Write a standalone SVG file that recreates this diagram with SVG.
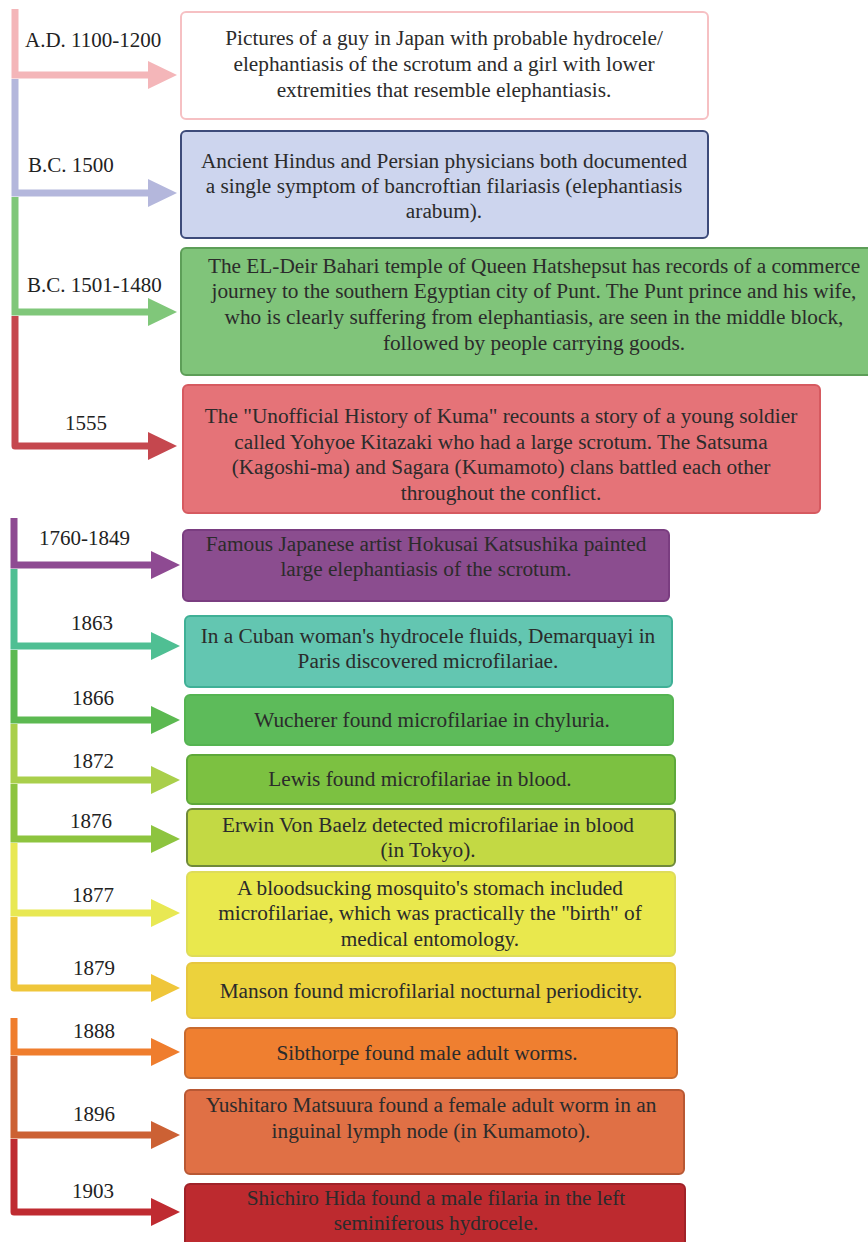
<svg xmlns="http://www.w3.org/2000/svg" width="868" height="1242" viewBox="0 0 868 1242" font-family="'Liberation Serif', 'Times New Roman', serif">
<style>
text{font-family:"Liberation Serif","Times New Roman",serif;font-size:21.3px;fill:#2b2b2b}
.lbl{font-size:21px;fill:#222}
.box text{text-anchor:middle;font-family:"Liberation Serif","Times New Roman",serif}
.c path{fill:none;stroke-width:7;stroke-linejoin:miter}
.c path.r{stroke-linejoin:round}
</style>
<rect width="868" height="1242" fill="#ffffff"/>
<g id="connectors" class="c">
  <path d="M15,9 V75 H150" stroke="#f4b6b9"/><polygon points="148,61 177,75 148,89" fill="#f4b6b9"/>
  <path d="M15,79 V193 H150" stroke="#b4b7dc"/><polygon points="148,179 177,193 148,207" fill="#b4b7dc"/>
  <path d="M15,197 V312 H150" stroke="#80c77a"/><polygon points="148,298 177,312 148,326" fill="#80c77a"/>
  <path class="r" d="M15,316 V446 H150" stroke="#c5474e"/><polygon points="148,432 177,446 148,460" fill="#c5474e"/>
  <path d="M14,518 V565 H152" stroke="#8e4a92"/><polygon points="151,551 180,565 151,579" fill="#8e4a92"/>
  <path d="M14,569 V646 H152" stroke="#4fbf93"/><polygon points="151,632 180,646 151,660" fill="#4fbf93"/>
  <path d="M14,650 V720 H152" stroke="#5cb951"/><polygon points="151,706 180,720 151,734" fill="#5cb951"/>
  <path d="M14,724 V780 H152" stroke="#a9cf4b"/><polygon points="151,766 180,780 151,794" fill="#a9cf4b"/>
  <path d="M14,784 V839 H152" stroke="#8dc43f"/><polygon points="151,825 180,839 151,853" fill="#8dc43f"/>
  <path d="M14,843 V913 H152" stroke="#e8e853"/><polygon points="151,899 180,913 151,927" fill="#e8e853"/>
  <path class="r" d="M14,917 V988 H152" stroke="#efc63a"/><polygon points="151,974 180,988 151,1002" fill="#efc63a"/>
  <path d="M14,1018 V1052 H152" stroke="#ef7d2d"/><polygon points="151,1038 180,1052 151,1066" fill="#ef7d2d"/>
  <path d="M14,1056 V1135 H152" stroke="#cc6134"/><polygon points="151,1121 180,1135 151,1149" fill="#cc6134"/>
  <path class="r" d="M14,1139 V1212 H152" stroke="#bf2b31"/><polygon points="151,1198 180,1212 151,1226" fill="#bf2b31"/>
</g>
<g id="labels">
  <text class="lbl" x="25" y="47">A.D. 1100-1200</text>
  <text class="lbl" x="28" y="172">B.C. 1500</text>
  <text class="lbl" x="27" y="292">B.C. 1501-1480</text>
  <text class="lbl" x="65" y="430">1555</text>
  <text class="lbl" x="39" y="545">1760-1849</text>
  <text class="lbl" x="71" y="630">1863</text>
  <text class="lbl" x="72" y="705">1866</text>
  <text class="lbl" x="72" y="768">1872</text>
  <text class="lbl" x="70" y="828">1876</text>
  <text class="lbl" x="72" y="902">1877</text>
  <text class="lbl" x="73" y="975">1879</text>
  <text class="lbl" x="73" y="1038">1888</text>
  <text class="lbl" x="73" y="1121">1896</text>
  <text class="lbl" x="72" y="1198">1903</text>
</g>
<g id="n1" class="box">
  <rect x="181" y="12" width="527" height="107" rx="5" fill="#ffffff" stroke="#f6c0c3" stroke-width="2"/>
  <text x="444" y="45">Pictures of a guy in Japan with probable hydrocele/</text>
  <text x="444" y="71">elephantiasis of the scrotum and a girl with lower</text>
  <text x="444" y="97">extremities that resemble elephantiasis.</text>
</g>
<g id="n2" class="box">
  <rect x="181" y="131" width="527" height="107" rx="5" fill="#cdd5ee" stroke="#3d4b7a" stroke-width="2"/>
  <text x="444" y="168">Ancient Hindus and Persian physicians both documented</text>
  <text x="444" y="193">a single symptom of bancroftian filariasis (elephantiasis</text>
  <text x="444" y="218">arabum).</text>
</g>
<g id="n3" class="box">
  <rect x="181" y="248" width="700" height="127" rx="5" fill="#80c47a" stroke="#5d9e58" stroke-width="2"/>
  <text x="534" y="273">The EL-Deir Bahari temple of Queen Hatshepsut has records of a commerce</text>
  <text x="534" y="298">journey to the southern Egyptian city of Punt. The Punt prince and his wife,</text>
  <text x="534" y="324">who is clearly suffering from elephantiasis, are seen in the middle block,</text>
  <text x="534" y="350">followed by people carrying goods.</text>
</g>
<g id="n4" class="box">
  <rect x="183" y="385" width="637" height="128" rx="5" fill="#e57378" stroke="#d65a60" stroke-width="2"/>
  <text x="501" y="423">The "Unofficial History of Kuma" recounts a story of a young soldier</text>
  <text x="501" y="449">called Yohyoe Kitazaki who had a large scrotum. The Satsuma</text>
  <text x="501" y="474">(Kagoshi-ma) and Sagara (Kumamoto) clans battled each other</text>
  <text x="501" y="500">throughout the conflict.</text>
</g>
<g id="n5" class="box">
  <rect x="183" y="530" width="486" height="71" rx="5" fill="#8b4d8f" stroke="#7a3d80" stroke-width="2"/>
  <text x="426" y="551">Famous Japanese artist Hokusai Katsushika painted</text>
  <text x="426" y="576">large elephantiasis of the scrotum.</text>
</g>
<g id="n6" class="box">
  <rect x="185" y="616" width="487" height="71" rx="5" fill="#63c6b1" stroke="#3fb096" stroke-width="2"/>
  <text x="428" y="643">In a Cuban woman's hydrocele fluids, Demarquayi in</text>
  <text x="428" y="668">Paris discovered microfilariae.</text>
</g>
<g id="n7" class="box">
  <rect x="185" y="695" width="488" height="50" rx="5" fill="#5dbb5a" stroke="#55b452" stroke-width="2"/>
  <text x="432" y="727">Wucherer found microfilariae in chyluria.</text>
</g>
<g id="n8" class="box">
  <rect x="187" y="755" width="488" height="49" rx="5" fill="#7cc141" stroke="#5ea83a" stroke-width="2"/>
  <text x="420" y="786">Lewis found microfilariae in blood.</text>
</g>
<g id="n9" class="box">
  <rect x="187" y="809" width="488" height="57" rx="5" fill="#c3d944" stroke="#6f8a3a" stroke-width="2"/>
  <text x="428" y="832">Erwin Von Baelz detected microfilariae in blood</text>
  <text x="428" y="857">(in Tokyo).</text>
</g>
<g id="n10" class="box">
  <rect x="187" y="872" width="488" height="84" rx="5" fill="#e9e84d" stroke="#dedc5a" stroke-width="2"/>
  <text x="430" y="895">A bloodsucking mosquito's stomach included</text>
  <text x="430" y="920">microfilariae, which was practically the "birth" of</text>
  <text x="430" y="946">medical entomology.</text>
</g>
<g id="n11" class="box">
  <rect x="187" y="963" width="488" height="55" rx="5" fill="#ecd23c" stroke="#e6c640" stroke-width="2"/>
  <text x="431" y="998">Manson found microfilarial nocturnal periodicity.</text>
</g>
<g id="n12" class="box">
  <rect x="185" y="1028" width="492" height="50" rx="5" fill="#ef7f30" stroke="#c86a2e" stroke-width="2"/>
  <text x="427" y="1060">Sibthorpe found male adult worms.</text>
</g>
<g id="n13" class="box">
  <rect x="185" y="1090" width="499" height="84" rx="5" fill="#e07045" stroke="#b85834" stroke-width="2"/>
  <text x="431" y="1112">Yushitaro Matsuura found a female adult worm in an</text>
  <text x="431" y="1138">inguinal lymph node (in Kumamoto).</text>
</g>
<g id="n14" class="box">
  <rect x="185" y="1184" width="500" height="70" rx="5" fill="#bd2a2f" stroke="#a02228" stroke-width="2"/>
  <text x="436" y="1205">Shichiro Hida found a male filaria in the left</text>
  <text x="436" y="1230">seminiferous hydrocele.</text>
</g>
</svg>
